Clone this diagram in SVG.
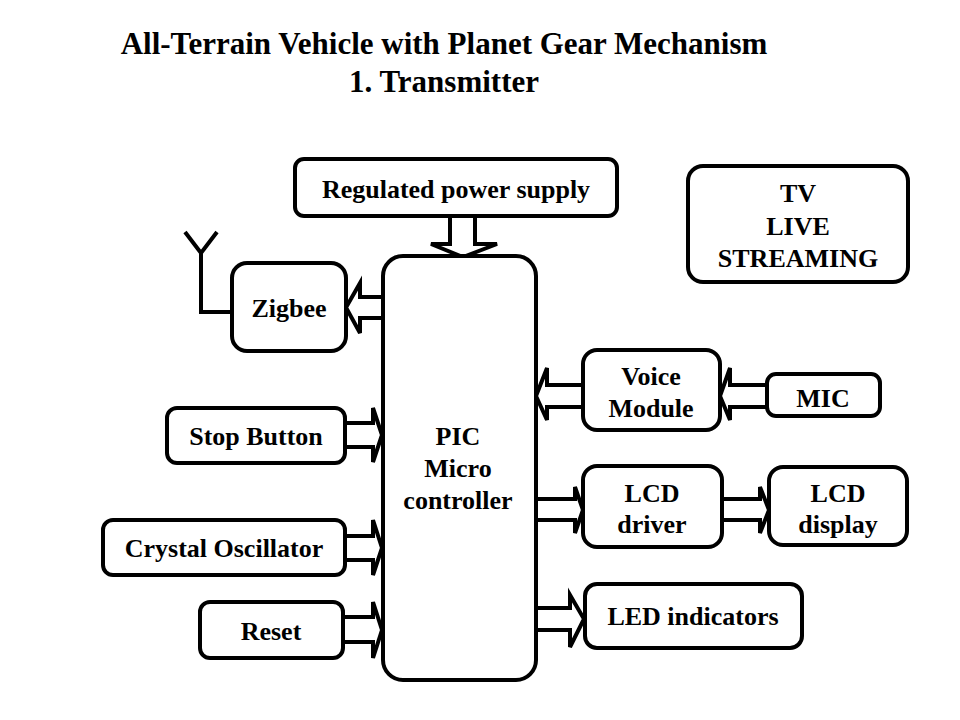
<svg xmlns="http://www.w3.org/2000/svg" width="960" height="720" viewBox="0 0 960 720">
<style>
.box{fill:#fff;stroke:#000;stroke-width:4}
.arr{fill:#fff;stroke:#000;stroke-width:4;stroke-linejoin:miter}
.wire{fill:none;stroke:#000;stroke-width:4}
text{font-weight:bold;fill:#000;text-anchor:middle}
.lbl{font-size:26px}
.title{font-size:31px}
</style>
<rect width="960" height="720" fill="#fff"/>
<g font-family="'Liberation Serif', 'DejaVu Serif', serif">
<g id="title">
<text class="title" x="444" y="54">All-Terrain Vehicle with Planet Gear Mechanism</text>
<text class="title" x="444" y="92">1. Transmitter</text>
</g>
<g id="connectors">
<polygon class="arr" points="450,214 450,244 431,244 463,257 497,244 475,244 475,214"/>
<polygon class="arr" points="384,297 360,297 360,283 346,307.5 360,333 360,318 384,318"/>
<polygon class="arr" points="343,423 373,423 373,408 382,435 373,462 373,447 343,447"/>
<polygon class="arr" points="343,536 373,536 373,520 382,548 373,575 373,560 343,560"/>
<polygon class="arr" points="341,617 373,617 373,602 382,630 373,658 373,642 341,642"/>
<polygon class="arr" points="585,385 547,385 547,368 536,396 547,420 547,407 585,407"/>
<polygon class="arr" points="769,385 730,385 730,368 720,396 730,420 730,407 769,407"/>
<polygon class="arr" points="534,499 575,499 575,487 583,510 575,533 575,520 534,520"/>
<polygon class="arr" points="720,499 760,499 760,487 769,510 760,533 760,520 720,520"/>
<polygon class="arr" points="534,608 570,608 570,595 584,619 570,647 570,630 534,630"/>
<polyline class="wire" points="232,312 201,312 201,253"/>
<polyline class="wire" points="185,232 201,253 217,232"/>
</g>
<g id="power">
<rect class="box" x="295" y="159" width="322" height="57" rx="9"/>
<text class="lbl" x="456" y="198">Regulated power supply</text>
</g>
<g id="pic">
<rect class="box" x="383" y="256" width="153" height="424" rx="20"/>
<text class="lbl" x="458" y="445">PIC</text>
<text class="lbl" x="458" y="477">Micro</text>
<text class="lbl" x="458" y="509">controller</text>
</g>
<g id="zigbee">
<rect class="box" x="232" y="263" width="114" height="88" rx="15"/>
<text class="lbl" x="289" y="317">Zigbee</text>
</g>
<g id="tv">
<rect class="box" x="688" y="166" width="220" height="116" rx="15"/>
<text class="lbl" x="798" y="202">TV</text>
<text class="lbl" x="798" y="235">LIVE</text>
<text class="lbl" x="798" y="267">STREAMING</text>
</g>
<g id="stop">
<rect class="box" x="167" y="408" width="178" height="55" rx="10"/>
<text class="lbl" x="256" y="445">Stop Button</text>
</g>
<g id="crystal">
<rect class="box" x="103" y="520" width="242" height="55" rx="10"/>
<text class="lbl" x="224" y="557">Crystal Oscillator</text>
</g>
<g id="reset">
<rect class="box" x="200" y="602" width="143" height="56" rx="10"/>
<text class="lbl" x="271" y="640">Reset</text>
</g>
<g id="voice">
<rect class="box" x="583" y="350" width="137" height="80" rx="14"/>
<text class="lbl" x="651" y="385">Voice</text>
<text class="lbl" x="651" y="417">Module</text>
</g>
<g id="mic">
<rect class="box" x="767" y="374" width="113" height="42" rx="9"/>
<text class="lbl" x="823" y="407">MIC</text>
</g>
<g id="lcddriver">
<rect class="box" x="583" y="466" width="139" height="81" rx="14"/>
<text class="lbl" x="652" y="502">LCD</text>
<text class="lbl" x="652" y="533">driver</text>
</g>
<g id="lcddisplay">
<rect class="box" x="769" y="467" width="138" height="78" rx="14"/>
<text class="lbl" x="838" y="502">LCD</text>
<text class="lbl" x="838" y="533">display</text>
</g>
<g id="led">
<rect class="box" x="585" y="584" width="217" height="64" rx="12"/>
<text class="lbl" x="693" y="625">LED indicators</text>
</g>
</g>
</svg>
